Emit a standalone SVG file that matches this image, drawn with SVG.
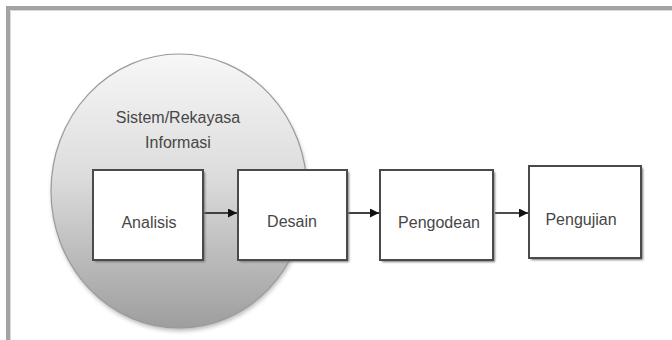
<svg xmlns="http://www.w3.org/2000/svg" width="672" height="340" viewBox="0 0 672 340">
  <defs>
    <linearGradient id="circGrad" x1="0" y1="0" x2="0" y2="1">
      <stop offset="0" stop-color="#f7f7f7"/>
      <stop offset="0.45" stop-color="#dcdcdc"/>
      <stop offset="1" stop-color="#9e9e9e"/>
    </linearGradient>
    <filter id="soft" x="-10%" y="-10%" width="130%" height="130%">
      <feGaussianBlur stdDeviation="1.2"/>
    </filter>
    <filter id="circShadow" x="-10%" y="-10%" width="120%" height="125%">
      <feGaussianBlur stdDeviation="2"/>
    </filter>
    <marker id="arrow" viewBox="0 0 10 10" refX="10" refY="5" markerWidth="9" markerHeight="9" markerUnits="userSpaceOnUse" orient="auto">
      <path d="M0,0 L10,5 L0,10 Z" fill="#111"/>
    </marker>
  </defs>
  <style>
    .box { fill: #ffffff; stroke: #4a4a4a; stroke-width: 2; }
    .shadow { fill: #777777; filter: url(#soft); }
    .lbl { font-family: "Liberation Sans", Arial, sans-serif; font-size: 16px; fill: #474747; text-anchor: middle; }
    .conn { stroke: #111; stroke-width: 1.6; fill: none; marker-end: url(#arrow); }
  </style>

  <rect width="672" height="340" fill="#ffffff"/>

  <!-- frame -->
  <g id="frame">
    <path d="M8,340 L8,8 L672,8" fill="none" stroke="#a3a3a3" stroke-width="4"/>
    <path d="M10.5,340 L10.5,10.5 L672,10.5" fill="none" stroke="#d8d8d8" stroke-width="1"/>
  </g>

  <!-- system circle -->
  <g id="sistem">
    <ellipse cx="180" cy="194" rx="128" ry="137" fill="#8a8a8a" filter="url(#circShadow)" opacity="0.6"/>
    <ellipse cx="179" cy="191" rx="128" ry="137" fill="url(#circGrad)" stroke="#9a9a9a" stroke-width="1.2"/>
    <text class="lbl" x="178" y="123">Sistem/Rekayasa</text>
    <text class="lbl" x="178" y="148">Informasi</text>
  </g>

  <!-- connectors -->
  <g id="connectors">
    <line class="conn" x1="204" y1="213" x2="237" y2="213"/>
    <line class="conn" x1="348" y1="213" x2="379" y2="213"/>
    <line class="conn" x1="495" y1="213" x2="528" y2="213"/>
  </g>

  <g id="analisis">
    <rect class="shadow" x="95" y="172" width="110" height="90"/>
    <rect class="box" x="93" y="170" width="110" height="90"/>
    <text class="lbl" x="149" y="228">Analisis</text>
  </g>

  <g id="desain">
    <rect class="shadow" x="240" y="172" width="109" height="90"/>
    <rect class="box" x="238" y="170" width="109" height="90"/>
    <text class="lbl" x="292" y="227">Desain</text>
  </g>

  <g id="pengodean">
    <rect class="shadow" x="382" y="172" width="113" height="90"/>
    <rect class="box" x="380" y="170" width="113" height="90"/>
    <text class="lbl" x="439" y="228">Pengodean</text>
  </g>

  <g id="pengujian">
    <rect class="shadow" x="531" y="168" width="112" height="92"/>
    <rect class="box" x="529" y="166" width="112" height="92"/>
    <text class="lbl" x="581" y="225">Pengujian</text>
  </g>
</svg>
